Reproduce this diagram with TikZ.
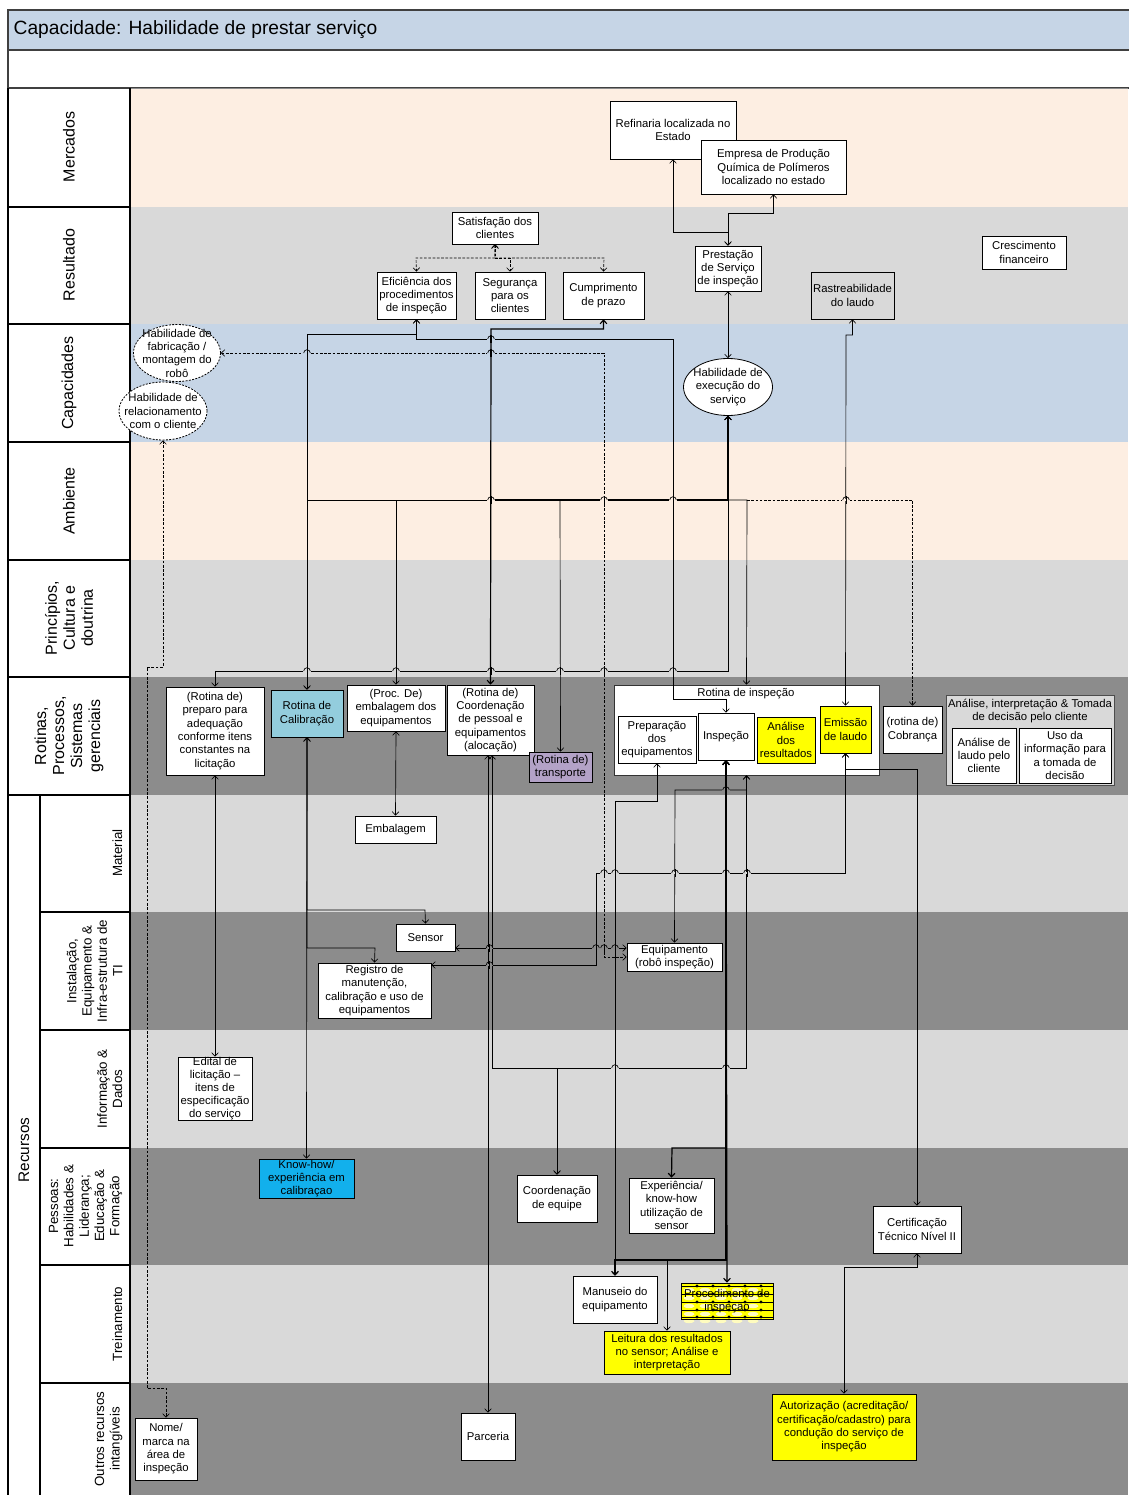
\documentclass[tikz,border=0pt]{standalone}
\usepackage{fontspec}
\setmainfont{Liberation Sans}
\usetikzlibrary{arrows.meta,shapes.geometric}

\definecolor{peach}{HTML}{FDEEE2}
\definecolor{lgrey}{HTML}{D9D9D9}
\definecolor{dgrey}{HTML}{8C8C8C}
\definecolor{lblue}{HTML}{C6D5E6}
\definecolor{calib}{HTML}{93CDDD}
\definecolor{khow}{HTML}{12B0EC}
\definecolor{lilac}{HTML}{B3A2C7}
\definecolor{ylw}{HTML}{FFFF00}

\tikzset{
  bxs/.style={draw=black, line width=0.6pt, fill=white, inner sep=0pt, align=center,
    font=\fontsize{8.5}{10}\selectfont},
  ell/.style={ellipse, draw=black, line width=0.6pt, fill=white, inner sep=0pt},
  elltxt/.style={align=center, inner sep=0pt, font=\fontsize{8.5}{10}\selectfont},
  lab/.style={rotate=90, align=center, font=\fontsize{12}{13.5}\selectfont},
  sublab/.style={rotate=90, anchor=south, align=center, font=\fontsize{10}{11.5}\selectfont},
  lk/.style={draw=black, line width=0.5pt, <->},
  lkb/.style={lk, line width=0.9pt},
  lkd/.style={lk, dash pattern=on 2pt off 1.2pt},
}

% box from its pixel corners: [style]{name}{x1}{y1}{x2}{y2}{text}
\newcommand\mkbox[7][]{%
  \node[bxs,#1,minimum width={(#5-#3)*0.75pt},minimum height={(#6-#4)*0.75pt}]
    (#2) at ({(#3+#5)/2},{(#4+#6)/2}) {#7};}

% line jump of a horizontal connector over a vertical one:
% [vertical line width]{x}{y}{lane colour}
\newcommand\lnjump[4][0.5pt]{%
  \draw[#4, line width=1.8pt] (#2-3.6,#3) -- (#2+3.6,#3);
  \draw[black, line width=#1] (#2,#3-4) -- (#2,#3+4);
  \draw[black, line width=0.5pt] (#2-3.3,#3) arc[start angle=180, end angle=360, radius=3.3];}

\begin{document}
\begin{tikzpicture}[x={(0.75pt,0)}, y={(0,-0.75pt)},
  >={Straight Barb[length=2.6pt,width=5pt]}]
\useasboundingbox (0,0) rectangle (1128,1495);
\fill[white] (0,0) rectangle (1128,1495);

% ---------- header ----------
\draw[fill=lblue, draw=black!75, line width=0.8pt] (8,10) rectangle (1130,50);
\node[anchor=west, font=\fontsize{14.4}{16}\selectfont] (ttl) at (9,30)
  {Capacidade: Habilidade de prestar serviço};
\draw[draw=black!75, line width=0.8pt] (8,50) rectangle (1130,88);

% ---------- lanes ----------
\fill[peach] (130,88)   rectangle (1128,207);
\fill[lgrey] (130,207)  rectangle (1128,324);
\fill[lblue] (130,324)  rectangle (1128,442);
\fill[peach] (130,442)  rectangle (1128,560);
\fill[lgrey] (130,560)  rectangle (1128,677);
\fill[dgrey] (130,677)  rectangle (1128,795);
\fill[lgrey] (130,795)  rectangle (1128,912);
\fill[dgrey] (130,912)  rectangle (1128,1030);
\fill[lgrey] (130,1030) rectangle (1128,1148);
\fill[dgrey] (130,1148) rectangle (1128,1265);
\fill[lgrey] (130,1265) rectangle (1128,1383);
\fill[dgrey] (130,1383) rectangle (1128,1495);
\draw[black!45] (130,88) -- (1128,88);

% ---------- label column ----------
\draw[line width=0.8pt] (8,88) -- (8,1495) (130,88) -- (130,1495) (40,795) -- (40,1495);
\foreach \yy in {207,324,442,560,677,795} \draw[line width=0.8pt] (8,\yy) -- (130,\yy);
\foreach \yy in {912,1030,1148,1265,1383} \draw[line width=0.8pt] (40,\yy) -- (130,\yy);

\node[lab] (lmer) at (69,147) {Mercados};
\node[lab] (lres) at (69,265) {Resultado};
\node[lab] (lcap) at (69,383) {Capacidades};
\node[lab] (lamb) at (69,501) {Ambiente};
\node[lab] (lpri) at (69,618) {Princípios,\\Cultura e\\doutrina};
\node[lab] (lrot) at (69,736) {Rotinas,\\Processos,\\Sistemas\\gerenciais};
\node[lab, font=\fontsize{11.5}{13}\selectfont] (lrec) at (24,1150) {Recursos};
\node[sublab] (lmat) at (127,853)  {Material};
\node[sublab] (lins) at (127,971)  {Instalação,\\Equipamento \&\\Infra-estrutura de\\TI};
\node[sublab] (linf) at (127,1089) {Informação \&\\Dados};
\node[sublab] (lpes) at (127,1206) {Pessoas:\\Habilidades \&\\Liderança;\\Educação \&\\Formação};
\node[sublab] (ltre) at (127,1324) {Treinamento};
\node[sublab] (lout) at (127,1439) {Outros recursos\\intangíveis};

% ---------- Mercados ----------
\mkbox{ref}{610}{101}{736}{159}{Refinaria localizada no\\Estado}
\mkbox{emp}{701}{140}{846}{194}{Empresa de Produção\\Química de Polímeros\\localizado no estado}

% ---------- Resultado ----------
\mkbox{sat}{452}{212}{538}{244}{Satisfação dos\\clientes}
\mkbox{efi}{377}{272}{456}{319}{Eficiência dos\\procedimentos\\de inspeção}
\mkbox{seg}{475}{272}{545}{319}{Segurança\\para os\\clientes}
\mkbox{cum}{563}{272}{644}{319}{Cumprimento\\de prazo}
\mkbox{prs}{695}{246}{761}{291}{Prestação\\de Serviço\\de inspeção}
\mkbox[fill=lgrey]{ras}{811}{272}{894}{319}{Rastreabilidade\\do laudo}
\mkbox{cre}{982}{236}{1066}{269}{Crescimento\\financeiro}

% ---------- Capacidades ----------
\node[ell, dash pattern=on 1.5pt off 1pt, minimum width=87*0.75pt, minimum height=57*0.75pt]
  (fab) at (177,353) {};
\node[elltxt] (fabt) at (177,353) {Habilidade de\\fabricação /\\montagem do\\robô};
\node[ell, dash pattern=on 1.5pt off 1pt, minimum width=88*0.75pt, minimum height=58*0.75pt]
  (rel) at (163,411) {};
\node[elltxt] (relt) at (163,411) {Habilidade de\\relacionamento\\com o cliente};
\node[ell, minimum width=89*0.75pt, minimum height=57*0.75pt] (exe) at (728,387) {};
\node[elltxt] (exet) at (728,387) {Habilidade de\\execução do\\serviço};

% ---------- Rotinas ----------
\mkbox{prp}{166}{687}{264}{775}{(Rotina de)\\preparo para\\adequação\\conforme itens\\constantes na\\licitação}
\mkbox[fill=calib]{cal}{271}{690}{343}{737}{Rotina de\\Calibração}
\mkbox{pem}{347}{685}{445}{731}{(Proc. De)\\embalagem dos\\equipamentos}
\mkbox{coo}{447}{685}{534}{755}{(Rotina de)\\Coordenação\\de pessoal e\\equipamentos\\(alocação)}
\mkbox[fill=lilac]{tra}{529}{752}{592}{782}{(Rotina de)\\transporte}
\mkbox[draw=black!80]{rin}{614}{685}{879}{775}{}
\node[font=\fontsize{8.5}{10}\selectfont] (rinl) at (746,694) {Rotina de inspeção};
\mkbox{pdq}{618}{716}{696}{763}{Preparação\\dos\\equipamentos}
\mkbox{ins}{698}{713}{754}{760}{Inspeção}
\mkbox[fill=ylw]{anr}{757}{717}{815}{763}{Análise\\dos\\resultados}
\mkbox[fill=ylw]{emi}{820}{706}{871}{753}{Emissão\\de laudo}
\mkbox{cob}{883}{706}{942}{753}{(rotina de)\\Cobrança}
\mkbox[fill=lgrey, draw=black!70]{adc}{946}{695}{1114}{785}{}
\node[font=\fontsize{8.5}{10}\selectfont, align=center] (adcl) at (1030,711)
  {Análise, interpretação \& Tomada\\de decisão pelo cliente};
\mkbox{alc}{952}{728}{1016}{783}{Análise de\\laudo pelo\\cliente}
\mkbox{uso}{1019}{728}{1111}{783}{Uso da\\informação para\\a tomada de\\decisão}

% ---------- Recursos ----------
\mkbox{emb}{355}{816}{436}{843}{Embalagem}
\mkbox{sen}{396}{924}{455}{951}{Sensor}
\mkbox{reg}{318}{963}{431}{1018}{Registro de\\manutenção,\\calibração e uso de\\equipamentos}
\mkbox{equ}{627}{943}{722}{971}{Equipamento\\(robô inspeção)}
\mkbox[font=\fontsize{8.5}{9.6}\selectfont]{edi}{178}{1057}{252}{1120}{Edital de\\licitação –\\itens de\\especificação\\do serviço}
\mkbox[fill=khow]{kno}{259}{1159}{354}{1198}{Know-how/\\experiência em\\calibraçao}
\mkbox{coe}{517}{1175}{597}{1222}{Coordenação\\de equipe}
\mkbox{exp}{629}{1178}{714}{1233}{Experiência/\\know-how\\utilização de\\sensor}
\mkbox{cer}{873}{1206}{961}{1253}{Certificação\\Técnico Nível II}
\mkbox{man}{573}{1276}{657}{1323}{Manuseio do\\equipamento}

% patterned training box
\fill[ylw] (681,1283) rectangle (773,1319);
\foreach \yy in {1286,1294,1302,1310,1317}{
  \foreach \xx in {689,705,721,737,753}
    \fill[yellow!25] (\xx,\yy+4) ellipse (5.5 and 2.2);
  \draw[line width=0.3pt] (681,\yy) -- (773,\yy);
  \foreach \xx in {697,713,729,745,761}
    \fill (\xx,\yy) circle (1.6);
}
\mkbox[fill=none]{pin}{681}{1283}{773}{1319}{Procedimento de\\inspeção}
\mkbox[fill=ylw]{lei}{604}{1331}{730}{1374}{Leitura dos resultados\\no sensor; Análise e\\interpretação}
\mkbox{nom}{135}{1418}{197}{1480}{Nome/\\marca na\\área de\\inspeção}
\mkbox{par}{461}{1413}{515}{1460}{Parceria}
\mkbox[fill=ylw]{aut}{772}{1394}{916}{1460}{Autorização (acreditação/\\certificação/cadastro) para\\condução do serviço de\\inspeção}

% ---------- connectors: markets and results ----------
\draw[lk] (ref.south) |- (728,232) -- (prs.north);
\draw[lk] (emp.south) |- (728,213) -- (prs.north);
\draw[lk] (prs.south) -- (exe.north);
\draw[lkd] (sat.south) |- (416,258) -- (efi.north);
\draw[lkd] (sat.south) |- (510,258) -- (seg.north);
\draw[lkd] (sat.south) |- (604,258) -- (cum.north);
\draw[lk] (efi.south) |- (307,334) -- (cal.north);
\draw[lk] (efi.south) |- (673,339) |- (726,699) -- (ins.north);
\draw[lkb] (cum.south) |- (491,329) -- (coo.north);
\draw[lkd] (fab.east) -- (604,353) |- (equ.west);
\draw[lk] (ras.south) |- (846,335) -- (emi.north);

% ---------- connectors: capability to routines ----------
\draw[line width=1.1pt] (exe.south) -- (728,500);
\draw[lk] (exe.south) |- (307,500) -- (cal.north);
\draw[lk] (exe.south) |- (396,500) -- (pem.north);
\draw[lk] (exe.south) |- (560,500) -- (tra.north);
\draw[lk] (exe.south) |- (747,500) -- (rin.north);
\draw[line width=0.9pt] (491,500) -- (728,500);
\coordinate (busr) at (747,500);
\draw[draw=black, line width=0.5pt, ->, dash pattern=on 2pt off 1.2pt] (busr) -| (cob.north);
\draw[lk] (exe.south) |- (215,671) -- (prp.north);
\draw[lkd] (rel.south) |- (147,667) |- (166,1388) -- (nom.north);

% ---------- connectors: routines to resources ----------
\draw[lk] (prp.south) -- (edi.north);
\draw[lk] (cal.south) -- (kno.north);
\draw[lk] (cal.south) |- (425,910) -- (sen.north);
\draw[lk] (cal.south) |- (375,948) -- (reg.north);
\draw[lk] (pem.south) -- (emb.north);
\draw[lk] (coo.south -| par.north) -- (par.north);
\draw[lk] ([xshift=1.2pt]coo.south) |- (557,1068) -- (coe.north);
\draw[lk] (rin.south) |- (557,1068) -- (coe.north);
\draw[lk] (rin.south) |- (675,790) -- (equ.north);
\draw[lk] (pdq.south) |- (615,801) -- (man.north);
\draw[lkb] (ins.south) -- (pin.north);
\draw[lkb] (ins.south) |- (672,1148) -- (exp.north);
\draw[lkb] (ins.south) |- (615,1260) -- (man.north);
\draw[lk] (ins.south) |- (667,1260) -- (lei.north);
\draw[lk] (emi.south) |- (596,873) |- (reg.east |- 0,965);
\draw[lk] (emi.south) |- (917,769) -- (cer.north);
\draw[lk] (sen.east |- 0,948) -- (equ.west |- 0,948);
\draw[lk] (cer.south) |- (844,1267) -- (aut.north);

% ---------- line jumps at crossings ----------
\lnjump[0.5pt]{307}{353}{lblue}
\lnjump[0.9pt]{491}{353}{lblue}
\lnjump[0.9pt]{491}{339}{lblue}
\lnjump[0.9pt]{491}{500}{peach}
\lnjump{604}{500}{peach}
\lnjump{673}{500}{peach}
\lnjump{846}{500}{peach}
\foreach \xx in {307,396,560,604,673} {\lnjump{\xx}{671}{lgrey}}
\lnjump[0.9pt]{491}{671}{lgrey}
\lnjump[0.9pt]{726}{790}{dgrey}
\foreach \xx in {604,615,675,747} {\lnjump{\xx}{873}{lgrey}}
\lnjump[0.9pt]{726}{873}{lgrey}
\foreach \xx in {596,604,615} {\lnjump{\xx}{948}{dgrey}}
\lnjump{489.5}{948}{dgrey}
\lnjump{489.5}{965}{dgrey}
\lnjump{615}{1068}{lgrey}
\lnjump[0.9pt]{726}{1068}{lgrey}
\end{tikzpicture}
\end{document}
